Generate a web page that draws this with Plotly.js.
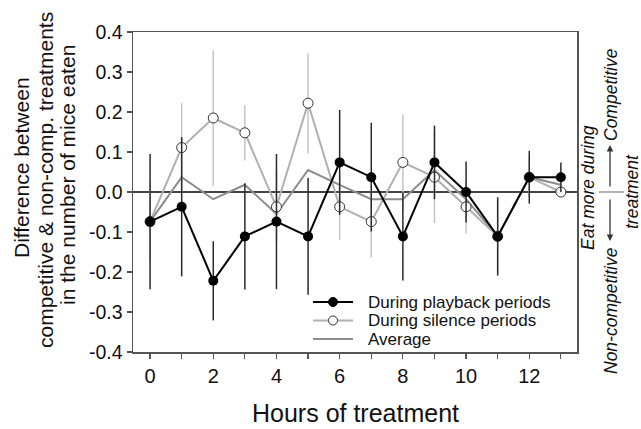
<!DOCTYPE html>
<html>
<head>
<meta charset="utf-8">
<script src="https://cdn.plot.ly/plotly-3.0.1.min.js"></script>
<style>
  html, body { margin: 0; padding: 0; background: #fff; }
  #chart { width: 641px; height: 429px; }
</style>
</head>
<body>
<div id="chart"></div>
<script>
// ---- data ----
const hours = [0, 1, 2, 3, 4, 5, 6, 7, 8, 9, 10, 11, 12, 13];
const xTickLabels = ['0', '', '2', '', '4', '', '6', '', '8', '', '10', '', '12', ''];
const yTickValues = [-0.4, -0.3, -0.2, -0.1, 0.0, 0.1, 0.2, 0.3, 0.4];
const yTickLabels = ['-0.4', '-0.3', '-0.2', '-0.1', '0.0', '0.1', '0.2', '0.3', '0.4'];

const playback    = [-0.074, -0.037, -0.222, -0.111, -0.074, -0.111, 0.074, 0.037, -0.111, 0.074, 0.000, -0.111, 0.037, 0.037];
const playbackErr = [0.169, 0.174, 0.099, 0.133, 0.169, 0.146, 0.131, 0.136, 0.110, 0.092, 0.076, 0.098, 0.066, 0.037];

const silence     = [-0.074, 0.111, 0.185, 0.148, -0.037, 0.222, -0.037, -0.074, 0.074, 0.037, -0.037, -0.111, 0.037, 0.000];
const silenceErr  = [0.100, 0.111, 0.169, 0.069, 0.090, 0.125, 0.083, 0.090, 0.119, 0.115, 0.066, 0.090, 0.050, 0.000];

const average     = [-0.074, 0.037, -0.018, 0.018, -0.055, 0.055, 0.018, -0.018, -0.018, 0.055, -0.018, -0.111, 0.037, 0.018];

const seriesNames = ['During playback periods', 'During silence periods', 'Average'];
const yTitleLines = ['Difference between', 'competitive &amp; non-comp. treatments', 'in the number of mice eaten'];
const xTitle = 'Hours of treatment';

// ---- styles ----
const FONT = 'Liberation Sans, Arial, Helvetica, sans-serif';
const AXIS = '#555555';
const styles = {
  playback: { line: '#000000', marker: '#000000', markerLine: '#000000', err: '#2a2a2a' },
  silence:  { line: '#b0b0b0', marker: '#ffffff', markerLine: '#333333', err: '#c4c4c4' },
  average:  { line: '#8c8c8c' }
};

const traces = [
  {
    x: hours, y: average, name: seriesNames[2], type: 'scatter', mode: 'lines',
    line: { color: styles.average.line, width: 2 }
  },
  {
    x: hours, y: silence, name: seriesNames[1], type: 'scatter', mode: 'lines+markers',
    line: { color: styles.silence.line, width: 2 },
    marker: { symbol: 'circle', size: 10, color: styles.silence.marker, line: { color: styles.silence.markerLine, width: 1 } },
    error_y: { type: 'data', array: silenceErr, visible: true, color: styles.silence.err, thickness: 1.5, width: 0 }
  },
  {
    x: hours, y: playback, name: seriesNames[0], type: 'scatter', mode: 'lines+markers',
    line: { color: styles.playback.line, width: 2 },
    marker: { symbol: 'circle', size: 10, color: styles.playback.marker },
    error_y: { type: 'data', array: playbackErr, visible: true, color: styles.playback.err, thickness: 1.5, width: 0 }
  }
];

function px2x(px) { return (px - 133) / 444; }
function px2y(py) { return (352 - py) / 320; }

const annotations = [
  { text: yTitleLines[0], x: px2x(21), y: px2y(168) },
  { text: yTitleLines[1], x: px2x(45), y: px2y(180) },
  { text: yTitleLines[2], x: px2x(67), y: px2y(175) }
].map(a => Object.assign(a, {
  xref: 'paper', yref: 'paper', xanchor: 'center', yanchor: 'middle', showarrow: false,
  textangle: -90, font: { family: FONT, size: 21, color: '#111' }
}));

annotations.push({
  text: xTitle, xref: 'paper', yref: 'paper', x: 0.5, y: px2y(413),
  xanchor: 'center', yanchor: 'middle', showarrow: false,
  font: { family: FONT, size: 25, color: '#111' }
});

const sideFont = { family: FONT, size: 17.5, color: '#111' };
[
  { text: '<i>Eat more during</i>', x: px2x(588), y: px2y(188) },
  { text: '<i>Non-competitive</i>', x: px2x(611), y: px2y(311) },
  { text: '<i>Competitive</i>', x: px2x(611), y: px2y(95) },
  { text: '<i>treatment</i>', x: px2x(632), y: px2y(192) }
].forEach(a => annotations.push(Object.assign(a, {
  xref: 'paper', yref: 'paper', xanchor: 'center', yanchor: 'middle', showarrow: false,
  textangle: -90, font: sideFont
})));

annotations.push({
  text: '', xref: 'paper', yref: 'paper', x: px2x(610), y: px2y(145), ax: 0, ay: 43,
  showarrow: true, arrowhead: 2, arrowsize: 1, arrowwidth: 1.3, arrowcolor: '#333'
});
annotations.push({
  text: '', xref: 'paper', yref: 'paper', x: px2x(610), y: px2y(241), ax: 0, ay: -43,
  showarrow: true, arrowhead: 2, arrowsize: 1, arrowwidth: 1.3, arrowcolor: '#333'
});

const shapes = [
  { type: 'line', xref: 'paper', yref: 'paper', x0: px2x(599), x1: px2x(624), y0: 0.5, y1: 0.5,
    line: { color: '#9a9a9a', width: 1.5 } }
];

// ---- legend (compact, as in the reference) ----
const legendRows = [
  { name: seriesNames[0], st: styles.playback, marker: true },
  { name: seriesNames[1], st: styles.silence, marker: true },
  { name: seriesNames[2], st: styles.average, marker: false }
];
const legendY = [302, 320.5, 339];
legendRows.forEach((r, i) => {
  const yy = legendY[i];
  shapes.push({ type: 'line', xref: 'paper', yref: 'paper', x0: px2x(313), x1: px2x(353),
    y0: px2y(yy), y1: px2y(yy), line: { color: r.st.line, width: 2 } });
  if (r.marker) {
    shapes.push({ type: 'circle', xref: 'paper', yref: 'paper',
      x0: px2x(328.5), x1: px2x(337.5), y0: px2y(yy + 4.5), y1: px2y(yy - 4.5),
      fillcolor: r.st.marker, line: { color: r.st.markerLine, width: 1 } });
  }
  annotations.push({ text: r.name, xref: 'paper', yref: 'paper', x: px2x(366), y: px2y(yy),
    xanchor: 'left', yanchor: 'middle', showarrow: false,
    font: { family: FONT, size: 17, color: '#111' } });
});

const layout = {
  width: 641, height: 429,
  margin: { l: 133, r: 64, t: 32, b: 77, pad: 0 },
  paper_bgcolor: '#ffffff', plot_bgcolor: '#ffffff',
  font: { family: FONT, color: '#111' },
  showlegend: false,
  xaxis: {
    range: [-0.54, 13.51], tickmode: 'array', tickvals: hours, ticktext: xTickLabels,
    ticks: 'outside', ticklen: 5, tickwidth: 1.2, tickcolor: AXIS,
    showline: true, linecolor: AXIS, linewidth: 1.5, mirror: true,
    showgrid: false, zeroline: false,
    tickfont: { family: FONT, size: 20, color: '#111' }
  },
  yaxis: {
    range: [-0.4, 0.4], tickmode: 'array', tickvals: yTickValues, ticktext: yTickLabels,
    ticks: 'outside', ticklen: 5, tickwidth: 1.2, tickcolor: AXIS,
    showline: true, linecolor: AXIS, linewidth: 1.5, mirror: true,
    showgrid: false, zeroline: true, zerolinecolor: '#444', zerolinewidth: 1.5,
    tickfont: { family: FONT, size: 19.5, color: '#111' }
  },
  shapes: shapes,
  annotations: annotations
};

Plotly.newPlot('chart', traces, layout, { displayModeBar: false, staticPlot: true });
</script>
</body>
</html>
